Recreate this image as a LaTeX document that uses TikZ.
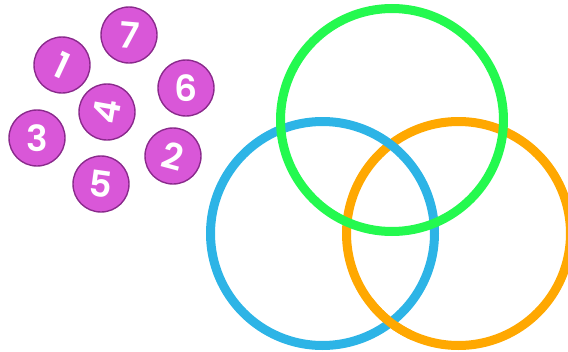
\documentclass[tikz,border=0pt]{standalone}
\usepackage{fontspec}
\newfontfamily\numfont{Poppins}[BoldFont={Poppins SemiBold}]
\definecolor{discfill}{HTML}{D957D8}
\definecolor{discline}{HTML}{8A2A8C}
\definecolor{vgreen}{HTML}{24F94F}
\definecolor{vblue}{HTML}{2DB4E6}
\definecolor{vorange}{HTML}{FFA801}
\tikzset{
  disc/.style={circle, fill=discfill, draw=discline, line width=1.4pt, minimum size=56pt, inner sep=0pt,
    text=white, font=\numfont\bfseries\fontsize{36}{36}\selectfont},
  ring/.style={circle, draw=#1, line width=9pt, minimum size=224pt, inner sep=0pt}
}
\begin{document}
\begin{tikzpicture}[x=1pt,y=-1pt]
\useasboundingbox (0,0) rectangle (568,351);
% rings
\node[ring=vorange] (orange) at (458.5,233.5) {};
\node[ring=vblue] (blue) at (322.5,233.5) {};
\node[ring=vgreen, minimum size=223pt] (green) at (392,120) {};
\begin{scope}
  \clip (370,298) rectangle (412,351);
  \node[ring=vorange] (orangetop) at (458.5,233.5) {};
\end{scope}
% discs
\node[disc] (d7) at (129,35) {\rotatebox{-5}{7}};
\node[disc] (d1) at (62,65) {\rotatebox{-25}{1}};
\node[disc] (d6) at (186,88) {6};
\node[disc] (d4) at (107,112) {\rotatebox{80}{4}};
\node[disc] (d3) at (37,138) {3};
\node[disc] (d2) at (173,156) {\rotatebox{-15}{2}};
\node[disc] (d5) at (101,184) {\rotatebox{-8}{5}};
\end{tikzpicture}
\end{document}
